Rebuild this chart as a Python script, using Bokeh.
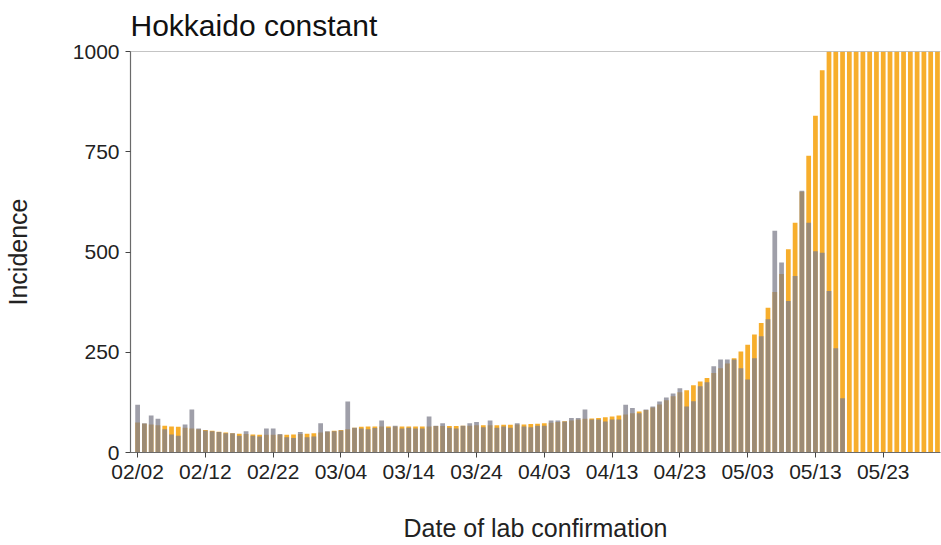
import pandas as pd
from bokeh.plotting import figure
from bokeh.models import Range1d, FixedTicker, DatetimeTickFormatter, Span, ColumnDataSource
from bokeh.embed import file_html
from bokeh.resources import INLINE

# ---- data ----
first_date = "2021-02-02"
tick_dates = ["2021-02-02", "2021-02-12", "2021-02-22", "2021-03-04", "2021-03-14",
              "2021-03-24", "2021-04-03", "2021-04-13", "2021-04-23", "2021-05-03",
              "2021-05-13", "2021-05-23"]
y_ticks = [0, 250, 500, 750, 1000]

# expected incidence (orange), 02/02 .. 05/31
expected = [75, 72, 70, 68, 67, 65, 64, 62, 60, 58,
            56, 54, 52, 50, 48, 47, 46, 45, 44, 44,
            44, 44, 44, 45, 46, 47, 48, 50, 52, 54,
            56, 58, 62, 64, 65, 65, 65, 65, 65, 65,
            65, 65, 65, 65, 66, 66, 66, 66, 67, 67,
            68, 68, 68, 68, 69, 69, 70, 70, 71, 72,
            73, 74, 76, 78, 80, 82, 84, 85, 86, 88,
            90, 92, 95, 98, 102, 106, 112, 120, 130, 140,
            150, 155, 168, 177, 186, 198, 210, 222, 235, 252,
            269, 294, 323, 361, 400, 445, 507, 573, 650, 740,
            840, 953, 1080, 1210, 1350, 1500, 1670, 1860, 2070, 2300,
            2560, 2850, 3170, 3530, 3930, 4370, 4860, 5410, 6020]

# observed incidence (grey), 02/02 .. 05/17
observed = [119, 73, 92, 84, 58, 45, 42, 70, 107, 60,
            55, 53, 51, 48, 48, 42, 53, 42, 40, 60,
            60, 46, 38, 36, 51, 38, 40, 73, 53, 53,
            55, 127, 62, 60, 58, 61, 80, 62, 67, 60,
            62, 60, 60, 90, 67, 73, 62, 60, 67, 73,
            76, 63, 80, 62, 65, 62, 73, 65, 63, 67,
            67, 80, 80, 77, 86, 86, 107, 82, 82, 77,
            82, 82, 119, 111, 98, 107, 115, 127, 137, 147,
            160, 115, 128, 165, 175, 215, 232, 232, 232, 210,
            182, 235, 290, 332, 553, 474, 378, 440, 653, 573,
            502, 498, 403, 260, 135]

DAY = 86400000.0
d0 = pd.Timestamp(first_date)
exp_dates = pd.date_range(first_date, periods=len(expected))
obs_dates = pd.date_range(first_date, periods=len(observed))

src_exp = ColumnDataSource(dict(x=exp_dates, top=expected))
src_obs = ColumnDataSource(dict(x=obs_dates, top=observed))

x0 = d0.value / 1e6
p = figure(width=941, height=545, output_backend="svg", toolbar_location=None,
           x_axis_type="datetime",
           x_range=Range1d(x0 - 1.05 * DAY, x0 + 118.45 * DAY),
           y_range=Range1d(0, 1000),
           min_border_left=128, min_border_right=1, min_border_bottom=93, min_border_top=8)

p.title.text = "Hokkaido constant"
p.title.text_font = "Liberation Sans"
p.title.text_font_size = "30px"
p.title.text_font_style = "normal"
p.title.text_color = "#111111"
p.title.offset = 0
p.title.standoff = 16
p.title.vertical_align = "top"

p.vbar(x="x", top="top", bottom=0, width=0.7 * DAY, source=src_exp,
       fill_color="#F7AE2C", line_color=None)
p.vbar(x="x", top="top", bottom=0, width=0.7 * DAY, source=src_obs,
       fill_color="#7F7F8C", fill_alpha=0.75, line_color=None)

p.add_layout(Span(location=1000, dimension="width", line_color="#8a8a8a", line_width=1.2))

p.xgrid.visible = False
p.ygrid.visible = False
p.outline_line_color = None

p.xaxis.ticker = FixedTicker(ticks=[pd.Timestamp(t).value / 1e6 for t in tick_dates])
fmt = "%m/%d"
p.xaxis.formatter = DatetimeTickFormatter(days=fmt, months=fmt, hours=fmt, years=fmt)
p.yaxis.ticker = FixedTicker(ticks=y_ticks)

for ax in (p.xaxis[0], p.yaxis[0]):
    ax.axis_line_color = "#6a6a6a"
    ax.axis_line_width = 1.2
    ax.major_tick_line_color = "#444444"
    ax.major_tick_out = 5
    ax.major_tick_in = 0
    ax.minor_tick_line_color = None
    ax.major_label_text_font = "Liberation Sans"
    ax.major_label_text_font_size = "21px"
    ax.major_label_text_color = "#222222"
    ax.axis_label_text_font = "Liberation Sans"
    ax.axis_label_text_font_size = "25px"
    ax.axis_label_text_font_style = "normal"
    ax.axis_label_text_color = "#222222"

p.xaxis.axis_label = "Date of lab confirmation"
p.yaxis.axis_label = "Incidence"
p.xaxis.major_label_standoff = 2
p.yaxis.major_label_standoff = 6
p.xaxis.axis_label_standoff = 28
p.yaxis.axis_label_standoff = 38

open("out.html", "w").write(file_html(p, INLINE))
